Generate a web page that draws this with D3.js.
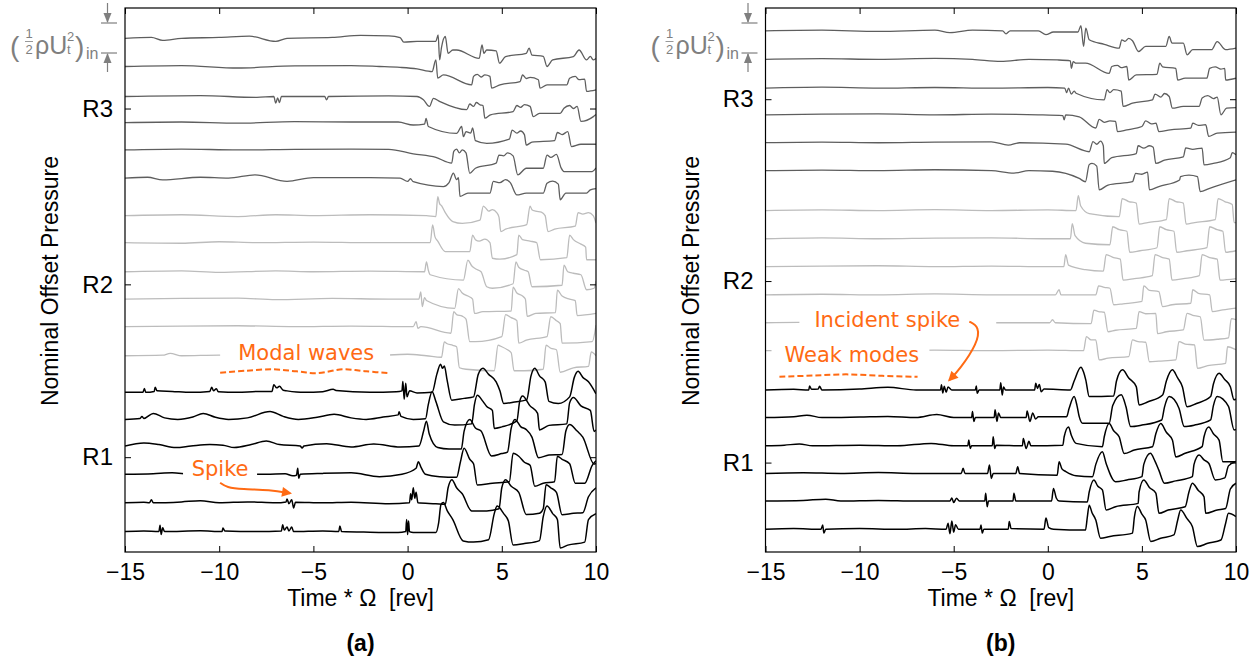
<!DOCTYPE html>
<html>
<head>
<meta charset="utf-8">
<script src="https://cdn.jsdelivr.net/npm/d3@7"></script>
<style>
body { margin: 0; background: #fff; }
svg { display: block; }
text { font-family: "Liberation Sans", Arial, sans-serif; }
</style>
</head>
<body>
<div id="chart"></div>
<script>
// time axis (rev) and row labels
var tDomain = [-15, 10];
var tTicks = [-15, -10, -5, 0, 5, 10];
var rowNames = ["R1", "R2", "R3"];
var yTop = 18.13; // nominal offset pressure, units of (1/2 rho Ut^2)_in

// ---- panel (a) ----
var rowTicksA = [3.16, 8.92, 14.78];
var offsetsA_R3 = [17.12, 16.18, 15.18, 14.31, 13.40, 12.46];
var offsetsA_R2 = [11.21, 10.31, 9.34, 8.43, 7.51, 6.54];
var offsetsA_R1 = [5.32, 4.42, 3.53, 2.59, 1.64, 0.68];

// traces as flat [t, p, t, p, ...] (p relative to the trace offset)
var tracesA_R3 = [
 [-15,0, -13.6,0.03, -13,-0.07, -12,0, -10,0.03, -8.4,0.07, -7,-0.1, -6.4,0, -4,0.03, -2.5,0.1, -1,0.08, -0.4,0.02, -0.2,-0.13, 0.5,-0.1, 1.5,-0.1, 1.62,0.11, 1.7,-0.72, 1.8,-0.3, 2.0,0.06, 2.15,-0.5, 2.4,-0.39, 2.6,-0.39, 3.8,-0.67, 3.95,-0.22, 4.05,-0.5, 4.2,-0.39, 4.7,-0.42, 4.88,-0.83, 5.2,-0.61, 6.3,-0.5, 6.45,-0.33, 6.6,-0.56, 7.2,-0.6, 7.4,-0.94, 7.7,-0.72, 8.8,-0.61, 9.1,-0.39, 9.5,-0.72, 9.7,-0.6, 9.85,-0.72, 10,-0.67],
 [-15,0, -12,0.03, -9,-0.05, -6,0.02, -3,0.03, -1.5,0, -0.4,-0.03, 0.5,-0.08, 1.3,-0.17, 1.5,0.22, 1.6,-0.39, 1.9,-0.28, 3.4,-0.61, 3.5,-0.33, 3.7,-0.26, 3.9,-0.35, 4.1,-0.28, 4.37,-0.33, 4.46,-0.72, 4.9,-0.61, 5.97,-0.5, 6.1,-0.28, 6.3,-0.4, 6.5,-0.36, 6.94,-0.44, 7.03,-0.72, 7.4,-0.61, 8.45,-0.61, 8.6,-0.39, 8.9,-0.33, 9.1,-0.44, 9.4,-0.42, 9.5,-0.83, 10,-0.78],
 [-15,0, -11,0.03, -8,-0.03, -7.1,0, -7.0,-0.22, -6.9,-0.05, -6.8,-0.2, -6.7,0, -4.4,0, -4.3,-0.11, -4.2,0, -1,0.02, 0.5,0, 0.84,-0.11, 1.16,-0.33, 1.37,-0.06, 1.72,-0.17, 3.14,-0.44, 3.3,-0.25, 3.5,-0.33, 3.65,-0.2, 3.85,-0.28, 4.0,-0.3, 4.1,-0.72, 4.4,-0.61, 5.6,-0.5, 5.8,-0.3, 6.0,-0.36, 6.2,-0.27, 6.5,-0.33, 6.67,-0.67, 7.0,-0.56, 8.1,-0.56, 8.3,-0.39, 8.6,-0.3, 8.8,-0.4, 9.0,-0.33, 9.2,-0.83, 9.86,-0.67, 10,-0.6],
 [-15,0, -12,0.02, -9,-0.02, -6,0.03, -3,0.02, -0.5,0.02, 0.3,-0.08, 0.9,-0.05, 0.98,0.14, 1.1,-0.13, 2.6,-0.36, 2.87,-0.13, 2.96,-0.47, 3.1,-0.3, 3.35,-0.35, 3.45,-0.18, 3.6,-0.6, 4.2,-0.69, 5.4,-0.55, 5.55,-0.25, 5.8,-0.35, 6.0,-0.28, 6.2,-0.4, 6.3,-0.75, 6.6,-0.65, 7.8,-0.6, 7.95,-0.33, 8.2,-0.4, 8.5,-0.3, 8.7,-0.8, 9.2,-0.72, 10,-0.72],
 [-15,0, -12,0.03, -9,0, -6,0.02, -3,0.03, -1,0.02, 0.3,-0.13, 1.5,-0.25, 2.34,-0.44, 2.45,-0.05, 2.6,0.03, 2.75,-0.1, 2.9,0.0, 3.1,-0.1, 3.3,-0.78, 3.6,-0.61, 4.7,-0.44, 4.85,-0.17, 5.1,-0.2, 5.3,-0.1, 5.6,-0.2, 5.85,-0.83, 6.3,-0.61, 7.2,-0.61, 7.4,-0.17, 7.6,-0.25, 7.9,-0.15, 8.15,-0.6, 8.3,-0.72, 9.8,-0.72, 10,-0.6],
 [-15,0, -13.8,0.03, -13,-0.06, -11,0.03, -9.5,0.0, -8.1,0.11, -6.4,-0.11, -5,0.02, -2,0.02, -0.4,0, 0.0,-0.11, 0.15,-0.02, 0.3,-0.12, 1.9,-0.28, 2.2,-0.15, 2.43,0.17, 2.6,-0.05, 2.7,0.02, 2.78,-0.61, 3.2,-0.5, 4.37,-0.5, 4.55,-0.11, 4.9,-0.15, 5.2,-0.05, 5.45,-0.15, 5.8,-0.56, 6.3,-0.5, 7.2,-0.5, 7.4,-0.17, 7.7,-0.1, 8.0,-0.2, 8.1,-0.72, 8.4,-0.5, 9.5,-0.5, 9.7,-0.39, 10,-0.35]
];
var tracesA_R2 = [
 [-15,0, -12,0.03, -9,-0.03, -7,0.03, -5,0, -2,0.03, 1.0,0, 1.5,-0.03, 1.6,0.63, 1.7,0.4, 1.8,0.33, 2.0,0.1, 2.4,-0.2, 2.9,-0.26, 3.84,-0.15, 4.02,0.32, 4.15,0.25, 4.3,0.15, 4.5,0.2, 4.73,0.1, 4.85,-0.05, 4.95,-0.53, 5.2,-0.45, 6.32,-0.3, 6.5,0.32, 6.6,0.2, 6.8,0.15, 7.1,0.12, 7.3,0.0, 7.45,-0.53, 7.8,-0.45, 8.9,-0.35, 9.05,0.1, 9.3,0.05, 9.6,0.1, 9.85,0.0, 10,-0.25],
 [-15,0, -12,-0.02, -10,0.03, -8,0, -5,0.02, -2,0.0, 1.2,0.0, 1.33,0.59, 1.45,0.2, 1.6,0.05, 2.0,-0.3, 3.3,-0.3, 3.45,0.25, 3.6,0.1, 3.8,0.05, 4.1,0.12, 4.37,0.0, 4.5,-0.52, 4.9,-0.55, 5.8,-0.4, 5.9,0.25, 6.1,0.1, 6.5,0.05, 6.85,0.0, 7.05,-0.57, 8.45,-0.5, 8.6,0.25, 8.8,0.1, 9.2,-0.05, 9.45,-0.15, 9.5,-0.57, 10,-0.57],
 [-15,0, -12,0.03, -10,-0.02, -7,0.03, -5,0.0, -2,0.02, 0.9,0, 1.0,0.33, 1.1,0.05, 1.2,-0.1, 2.96,-0.28, 3.2,0.39, 3.4,0.2, 3.6,0.1, 3.9,0.0, 4.2,-0.5, 4.5,-0.55, 5.6,-0.4, 5.75,0.33, 5.9,0.15, 6.2,0.05, 6.4,0.0, 6.6,-0.5, 8.2,-0.45, 8.3,0.22, 8.5,0.0, 8.8,-0.05, 9.2,-0.1, 9.5,-0.6, 9.9,-0.55, 10,-0.3],
 [-15,0, -12,0.02, -9,0.03, -7,-0.02, -4,0.02, -1,0.0, 0.6,0.0, 0.7,0.24, 0.78,-0.25, 0.9,0.05, 1.0,-0.05, 2.5,-0.31, 2.7,0.35, 2.9,0.2, 3.2,0.1, 3.45,0.0, 3.55,-0.48, 4.0,-0.42, 5.5,-0.4, 5.6,0.4, 5.8,0.2, 6.1,0.1, 6.25,0.0, 6.35,-0.58, 6.8,-0.48, 7.85,-0.45, 7.95,0.3, 8.2,0.1, 8.6,0.0, 8.9,-0.05, 9.0,-0.55, 10,-0.48],
 [-15,0, -12,0.02, -9,0.03, -6,0, -3,0.02, 0.3,0.0, 0.45,0.17, 0.55,-0.06, 0.7,0.0, 2.3,-0.22, 2.45,0.5, 2.6,0.4, 2.9,0.35, 3.1,0.25, 3.3,-0.5, 3.6,-0.5, 5.0,-0.33, 5.2,0.4, 5.5,0.3, 5.8,0.2, 5.9,-0.55, 6.3,-0.45, 7.4,-0.33, 7.6,0.33, 7.9,0.2, 8.1,0.1, 8.2,-0.55, 9.8,-0.5, 10,0.05],
 [-15,0, -13,0.02, -12.6,0.08, -12,0.0, -10,0.02, -8,0, -5,0.02, -2,0.0, 0,0.05, 1.0,0.0, 1.8,-0.05, 1.95,0.46, 2.1,0.4, 2.4,0.35, 2.6,0.3, 2.75,-0.4, 3.1,-0.45, 4.6,-0.5, 4.8,0.35, 5.0,0.3, 5.3,0.2, 5.5,0.1, 5.65,-0.5, 6.2,-0.5, 7.2,-0.45, 7.35,0.35, 7.6,0.25, 7.9,0.2, 8.1,-0.55, 8.8,-0.4, 9.6,-0.35, 9.75,0.13, 10,0.0]
];
var tracesA_R1 = [
 [-15,0, -14.05,0.0, -13.97,0.13, -13.9,0.0, -13.45,0.03, -13.4,0.17, -13.3,0.05, -12.5,0.03, -11.5,0.0, -10.5,0.03, -10.4,0.17, -10.3,0.05, -10.15,0.12, -10.05,0.02, -9,0.0, -8,0.03, -7.2,0.03, -7.1,0.25, -6.95,0.15, -6.8,0.2, -6.6,0.07, -6.4,0.05, -5.5,0.0, -4.5,0.02, -3.95,0.1, -3.8,0.06, -2,0.0, -0.6,0.02, -0.3,0.05, -0.25,0.36, -0.18,-0.23, -0.1,0.3, -0.03,-0.15, 0.1,0.05, 0.5,-0.02, 1.3,0.0, 1.55,0.6, 1.75,0.94, 1.85,0.8, 1.95,0.88, 2.1,0.4, 2.34,-0.26, 3.0,-0.2, 3.5,-0.15, 3.75,0.6, 4.0,0.8, 4.3,0.6, 4.7,0.35, 4.9,0.05, 5.1,-0.37, 5.6,-0.33, 6.32,-0.25, 6.55,0.55, 6.75,0.8, 7.0,0.55, 7.3,0.35, 7.5,-0.3, 8.0,-0.37, 8.6,-0.15, 8.85,0.5, 9.05,0.7, 9.3,0.5, 9.6,0.35, 10,-0.05],
 [-15,0, -14.2,0.03, -14.1,0.1, -14.0,0.03, -13.5,0.2, -12.9,0.05, -12.2,0.0, -11.4,0.08, -10.85,0.2, -10.2,0.07, -9.5,0.0, -8.5,0.05, -7.3,0.26, -6.6,0.1, -5.8,0.0, -4.8,0.07, -3.9,0.17, -3.0,0.05, -2.2,0.0, -1.3,0.08, -0.5,0.15, -0.45,0.25, -0.35,0.1, 0.3,0.0, 0.95,0.02, 1.1,0.5, 1.3,0.92, 1.5,0.6, 1.9,-0.08, 2.5,-0.19, 3.4,-0.15, 3.55,0.5, 3.7,0.8, 4.0,0.6, 4.2,0.43, 4.5,0.3, 4.6,-0.3, 5.0,-0.25, 5.8,-0.05, 5.95,0.6, 6.1,0.78, 6.5,0.45, 6.9,0.2, 7.0,-0.35, 7.5,-0.2, 8.45,-0.15, 8.6,0.55, 8.8,0.73, 9.2,0.45, 9.7,0.3, 9.9,-0.4, 10,-0.35],
 [-15,0, -14,0.1, -13.2,0.05, -12.3,-0.05, -11.5,0.0, -10.5,0.05, -9.8,0.03, -9.2,-0.05, -8.3,0.05, -7.5,0.17, -6.8,0.05, -5.7,0.0, -5.6,-0.06, -5.5,0.0, -4.3,0.08, -3.0,-0.03, -1.8,0.07, -0.4,-0.03, 0.6,0.0, 0.85,0.5, 1.0,0.83, 1.15,0.4, 1.6,-0.05, 2.2,-0.1, 2.85,-0.1, 3.0,0.5, 3.3,0.89, 3.6,0.6, 3.9,0.5, 4.45,-0.33, 5.0,-0.25, 5.3,-0.2, 5.5,0.6, 5.7,0.89, 6.0,0.65, 6.3,0.55, 6.6,0.3, 6.95,-0.39, 7.5,-0.3, 8.2,-0.28, 8.4,0.5, 8.6,0.72, 9.0,0.5, 9.3,0.3, 9.9,-0.6, 10,-0.58],
 [-15,0, -13.5,0.02, -12.5,0.05, -11.5,0.0, -11,0.02, -7.5,0.0, -6.5,0.02, -6.1,-0.05, -5.9,-0.03, -5.83,0.2, -5.78,-0.13, -5.7,0.0, -4.5,0.03, -3.0,0.05, -1.5,-0.08, -0.3,0.0, 0.45,0.2, 0.57,0.42, 0.7,0.25, 0.95,0.0, 1.7,-0.08, 2.6,-0.1, 2.8,0.4, 3.0,0.87, 3.3,0.5, 3.5,0.35, 3.7,-0.36, 4.5,-0.3, 5.4,-0.25, 5.6,0.7, 5.9,0.6, 6.2,0.4, 6.5,0.3, 6.75,-0.4, 7.2,-0.3, 7.8,-0.25, 7.95,0.6, 8.2,0.5, 8.6,0.35, 8.9,-0.3, 9.4,-0.3, 9.8,0.3, 10,0.45],
 [-15,0, -14,0.02, -13.7,0.0, -13.6,0.1, -13.5,0.0, -12,0.03, -11,0.07, -10,0.0, -8.5,0.03, -7,0.0, -6.45,0.03, -6.4,0.13, -6.3,-0.03, -6.15,0.1, -6.05,-0.17, -5.95,0.02, -4.5,0.0, -3,0.02, -1,-0.03, 0.1,0.0, 0.16,0.3, 0.22,0.1, 0.3,0.5, 0.38,0.15, 0.45,0.35, 0.55,0.0, 1.5,-0.03, 2.0,-0.05, 2.15,0.5, 2.35,0.77, 2.6,0.5, 2.9,0.3, 3.4,-0.27, 4.2,-0.27, 4.85,-0.2, 5.0,0.5, 5.2,0.77, 5.5,0.55, 5.9,0.35, 6.3,-0.39, 7.0,-0.35, 7.2,-0.2, 7.35,0.6, 7.6,0.5, 7.9,0.35, 8.2,-0.4, 8.8,-0.35, 9.3,-0.33, 9.6,0.2, 10,0.5],
 [-15,0, -14,0.02, -13.2,0.0, -13.14,0.21, -13.08,-0.1, -13.0,0.13, -12.9,0.0, -11,0.03, -9.85,0.0, -9.8,0.12, -9.7,0.02, -8,0.0, -6.7,0.02, -6.63,0.23, -6.55,0.05, -6.4,0.15, -6.3,0.02, -6.15,0.15, -6.05,0.0, -4.5,0.02, -3.65,0.0, -3.6,0.19, -3.5,0.0, -2,-0.02, -0.5,-0.03, -0.1,0.0, -0.05,0.4, 0.0,-0.1, 0.05,0.35, 0.1,0.0, 0.3,-0.03, 1.5,-0.03, 1.65,0.3, 1.77,0.9, 1.9,0.97, 2.1,0.7, 2.4,0.4, 2.95,-0.31, 3.5,-0.35, 4.3,-0.27, 4.6,0.6, 4.75,0.85, 5.1,0.6, 5.35,0.35, 5.6,-0.45, 6.2,-0.4, 7.0,-0.3, 7.2,0.5, 7.4,0.85, 7.7,0.6, 7.95,0.4, 8.1,-0.55, 8.5,-0.45, 9.4,-0.35, 9.6,0.4, 10,0.6]
];

// ---- panel (b) ----
var rowTicksB = [2.98, 9.03, 15.09];
var offsetsB_R3 = [17.37, 16.42, 15.46, 14.57, 13.64, 12.71];
var offsetsB_R2 = [11.38, 10.44, 9.51, 8.57, 7.64, 6.71];
var offsetsB_R1 = [5.40, 4.48, 3.54, 2.62, 1.70, 0.76];

var tracesB_R3 = [
 [-15,0, -12,0.02, -9,-0.02, -6,0.02, -5.2,-0.06, -4,0.02, -2.4,0.0, -2.22,-0.1, -2.0,0.0, -0.5,0.0, -0.1,-0.13, 0.3,-0.04, 1.6,-0.04, 1.76,0.17, 1.9,-0.52, 2.02,0.09, 2.2,-0.3, 3.0,-0.45, 3.79,-0.58, 3.93,-0.3, 4.1,-0.35, 4.3,-0.25, 4.5,-0.33, 4.82,-0.69, 5.2,-0.52, 6.27,-0.52, 6.45,-0.19, 6.6,-0.41, 7.2,-0.41, 7.4,-0.8, 7.7,-0.63, 8.7,-0.63, 9.0,-0.36, 9.45,-0.63, 10,-0.58],
 [-15,0, -12,0.02, -9,0.0, -6,0.03, -4,0.0, -2.5,-0.07, -1,0.0, 0.5,-0.02, 1.2,-0.05, 1.25,-0.3, 1.35,-0.08, 1.5,-0.13, 2.0,-0.13, 3.26,-0.47, 3.4,-0.24, 3.7,-0.2, 3.9,-0.28, 4.2,-0.24, 4.3,-0.69, 4.7,-0.52, 5.8,-0.5, 5.95,-0.13, 6.1,-0.25, 6.8,-0.3, 6.9,-0.69, 7.3,-0.63, 8.45,-0.63, 8.6,-0.3, 8.9,-0.25, 9.2,-0.33, 9.4,-0.3, 9.45,-0.69, 10,-0.63],
 [-15,0, -12,0.03, -9,0.0, -6,0.02, -3,0.0, 0,0.02, 0.9,0.0, 1.0,-0.15, 1.1,0.0, 1.25,-0.2, 1.4,-0.1, 1.5,-0.17, 3.0,-0.39, 3.15,-0.05, 3.3,-0.15, 3.5,-0.05, 3.9,-0.1, 4.0,-0.61, 4.5,-0.5, 5.56,-0.39, 5.7,-0.2, 6.0,-0.3, 6.2,-0.18, 6.45,-0.28, 6.62,-0.67, 7.2,-0.61, 8.04,-0.61, 8.2,-0.33, 8.5,-0.25, 8.8,-0.35, 9.0,-0.3, 9.2,-0.89, 9.5,-0.67, 10,-0.65],
 [-15,0, -12,0.02, -9,0.03, -6,0.0, -3,0.02, -0.5,0.0, 0.8,-0.03, 0.87,-0.17, 0.95,0.0, 1.67,-0.07, 2.55,-0.44, 2.73,-0.15, 3.0,-0.25, 3.3,-0.2, 3.6,-0.22, 3.7,-0.56, 4.2,-0.5, 5.0,-0.39, 5.2,-0.2, 5.5,-0.3, 5.75,-0.28, 5.9,-0.56, 6.5,-0.5, 7.6,-0.44, 7.7,-0.28, 8.0,-0.35, 8.39,-0.33, 8.55,-0.72, 9.0,-0.61, 10,-0.58],
 [-15,0, -12,0.02, -9,0.0, -6,0.02, -3,0.03, -2.1,-0.08, -1.5,0.0, 0.96,-0.05, 2.2,-0.3, 2.4,0.04, 2.6,-0.05, 2.8,0.05, 2.95,-0.1, 3.0,-0.69, 3.4,-0.5, 4.7,-0.36, 4.8,-0.1, 5.1,-0.18, 5.4,-0.1, 5.6,-0.15, 5.74,-0.69, 6.2,-0.58, 7.2,-0.47, 7.33,-0.17, 7.7,-0.22, 8.2,-0.18, 8.3,-0.74, 8.8,-0.69, 9.7,-0.5, 9.8,-0.33, 10,-0.4],
 [-15,0, -12,0.02, -9,0.0, -6,0.03, -3,0.0, -1.8,-0.08, -1.0,0.0, 0.25,-0.02, 1.67,-0.26, 2.0,-0.37, 2.2,0.2, 2.35,0.24, 2.6,0.15, 2.73,-0.64, 3.2,-0.48, 4.5,-0.37, 4.67,-0.09, 5.0,-0.12, 5.3,-0.05, 5.4,-0.64, 5.9,-0.53, 7.0,-0.31, 7.05,-0.2, 7.5,-0.15, 7.95,-0.2, 8.1,-0.7, 8.6,-0.59, 10,-0.31]
];
var tracesB_R2 = [
 [-15,0, -12,0.02, -9,0.0, -6,0.03, -3,0.0, 0,0.02, 1.5,0.0, 1.62,0.5, 1.75,0.15, 2.2,-0.1, 3.8,-0.2, 3.95,0.4, 4.3,0.3, 4.7,0.25, 4.85,-0.45, 5.3,-0.4, 6.3,-0.3, 6.45,0.4, 6.8,0.3, 7.2,0.25, 7.35,-0.45, 7.8,-0.4, 8.9,-0.3, 9.05,0.4, 9.4,0.3, 9.8,0.2, 9.9,-0.4, 10,-0.4],
 [-15,0, -12,0.03, -9,0.0, -6,0.02, -3,0.03, 0,0.0, 1.2,0.0, 1.3,0.5, 1.45,0.1, 2.0,-0.15, 3.3,-0.2, 3.45,0.4, 3.8,0.3, 4.2,0.25, 4.35,-0.45, 4.9,-0.4, 5.8,-0.3, 5.95,0.4, 6.3,0.3, 6.7,0.25, 6.85,-0.45, 7.4,-0.4, 8.45,-0.3, 8.6,0.4, 9.0,0.3, 9.3,0.25, 9.45,-0.45, 10,-0.4],
 [-15,0, -12,0.02, -9,0.03, -6,0.0, -3,0.02, 0,0.0, 0.85,0.0, 0.95,0.4, 1.1,0.05, 2.0,-0.1, 2.95,-0.15, 3.1,0.4, 3.5,0.3, 3.85,0.25, 4.0,-0.45, 4.6,-0.4, 5.55,-0.3, 5.7,0.4, 6.1,0.3, 6.45,0.25, 6.6,-0.45, 7.2,-0.4, 8.05,-0.3, 8.2,0.4, 8.6,0.3, 9.0,0.25, 9.15,-0.45, 10,-0.4],
 [-15,0, -12,0.02, -9,0.0, -6,0.03, -3,0.0, 0.4,0.0, 0.6,0.17, 0.7,0.0, 2.55,0.0, 2.7,0.3, 3.0,0.25, 3.3,0.22, 3.5,-0.33, 4.0,-0.3, 5.0,-0.22, 5.1,0.3, 5.4,0.15, 5.9,0.11, 6.1,-0.39, 6.6,-0.33, 7.6,-0.28, 7.7,0.17, 8.0,0.05, 8.6,0.0, 8.74,-0.56, 9.3,-0.5, 10,-0.44],
 [-15,0, -12,0.02, -9,0.0, -6,0.02, -3,0.0, 0.1,0.0, 0.25,0.1, 0.4,0.0, 2.3,-0.03, 2.45,0.42, 2.7,0.37, 3.0,0.35, 3.2,-0.3, 3.6,-0.25, 4.7,-0.19, 4.85,0.37, 5.2,0.3, 5.74,0.31, 5.83,-0.36, 6.3,-0.3, 7.2,-0.24, 7.4,0.31, 7.7,0.25, 8.1,0.2, 8.3,-0.58, 9.0,-0.55, 9.6,-0.5, 9.75,0.14, 10,0.1],
 [-15,0, -12,0.02, -9,0.0, -6,0.02, -3,0.0, 0,0.02, 1.9,0.0, 2.05,0.47, 2.3,0.36, 2.55,0.36, 2.73,-0.31, 3.2,-0.25, 4.3,-0.2, 4.5,0.36, 4.8,0.3, 5.2,0.28, 5.4,-0.37, 5.9,-0.35, 6.8,-0.31, 6.97,0.3, 7.3,0.22, 7.8,0.19, 7.95,-0.59, 8.5,-0.5, 9.45,-0.42, 9.55,0.13, 10,0.03]
];
var tracesB_R1 = [
 [-15,0, -13.5,0.02, -12.7,0.0, -12.66,0.13, -12.55,0.02, -12.2,0.03, -12.13,0.12, -12.0,0.0, -10,0.03, -8.5,0.09, -7,0.0, -5.7,0.0, -5.65,0.17, -5.58,-0.1, -5.5,0.12, -5.4,-0.08, -5.3,0.1, -5.1,0.0, -3.85,0.0, -3.8,0.13, -3.75,-0.11, -3.65,0.0, -2.55,0.0, -2.5,0.24, -2.42,-0.17, -2.35,0.1, -2.25,0.0, -0.7,0.0, -0.64,0.22, -0.55,0.05, -0.45,0.18, -0.35,-0.06, -0.2,0.03, 1.2,0.0, 1.4,0.3, 1.76,0.76, 1.9,0.6, 2.02,0.33, 2.2,-0.22, 3.5,-0.2, 3.65,0.3, 3.97,0.67, 4.3,0.4, 4.7,0.11, 4.85,-0.5, 5.3,-0.4, 6.1,-0.17, 6.3,0.3, 6.62,0.67, 6.9,0.4, 7.15,0.11, 7.4,-0.56, 7.9,-0.45, 8.65,-0.22, 8.8,0.2, 9.1,0.56, 9.4,0.35, 9.7,0.11, 9.9,-0.33, 10,-0.3],
 [-15,0, -13.5,0.03, -12.8,0.08, -12,0.0, -10,0.02, -8.5,0.04, -7,0.0, -5.9,0.1, -5,0.0, -4.05,0.0, -4.0,0.2, -3.93,-0.13, -3.85,0.0, -2.85,0.0, -2.8,0.26, -2.7,-0.13, -2.62,0.15, -2.5,0.0, -1.15,0.0, -1.1,0.22, -0.95,-0.13, -0.8,0.15, -0.65,-0.05, -0.5,0.03, 1.0,0.03, 1.13,0.3, 1.4,0.7, 1.55,0.4, 1.67,0.03, 1.85,-0.19, 3.26,-0.19, 3.45,0.4, 3.9,0.76, 4.15,0.37, 4.4,-0.3, 5.0,-0.25, 6.05,-0.08, 6.2,0.35, 6.45,0.7, 6.97,0.31, 7.25,-0.3, 7.8,-0.25, 8.65,-0.08, 8.8,0.4, 9.0,0.7, 9.6,0.37, 9.9,-0.41, 10,-0.4],
 [-15,0, -14,0.02, -13.2,0.06, -12.5,0.0, -10,0.02, -8,0.0, -6.2,0.08, -5,0.0, -4.25,0.0, -4.2,0.19, -4.12,-0.09, -4.05,0.0, -2.95,0.0, -2.9,0.3, -2.82,-0.09, -2.75,0.02, -1.35,0.0, -1.3,0.24, -1.15,-0.09, -1.0,0.15, -0.9,0.0, 0.8,0.02, 0.87,0.3, 1.1,0.63, 1.25,0.35, 1.5,0.08, 2.9,-0.03, 3.0,0.3, 3.26,0.74, 3.5,0.5, 3.79,0.3, 4.06,-0.26, 4.6,-0.14, 5.56,-0.03, 5.74,0.4, 6.0,0.74, 6.3,0.45, 6.62,0.19, 6.8,-0.37, 7.3,-0.25, 8.2,-0.03, 8.3,0.3, 8.55,0.63, 8.8,0.4, 9.1,0.19, 9.3,-0.53, 10,-0.53],
 [-15,0, -13,0.02, -11,0.0, -9,0.03, -7,0.0, -4.6,0.0, -4.5,0.17, -4.4,0.0, -3.2,0.0, -3.1,0.28, -3.0,-0.17, -2.9,0.0, -1.7,0.0, -1.6,0.22, -1.5,0.0, 0.5,-0.06, 0.6,0.39, 0.75,0.15, 0.96,0.06, 1.5,-0.08, 2.37,-0.11, 2.55,0.3, 2.9,0.72, 3.1,0.33, 3.6,-0.28, 4.2,-0.22, 5.0,-0.11, 5.1,0.3, 5.45,0.67, 5.7,0.4, 5.9,0.11, 6.2,-0.33, 6.8,-0.25, 7.68,-0.11, 7.77,0.3, 8.04,0.61, 8.3,0.45, 8.56,0.33, 8.9,-0.22, 9.4,-0.15, 9.6,0.25, 10,0.4],
 [-15,0, -13,0.02, -11.8,0.06, -11,0.0, -9,0.02, -7,0.0, -5.2,0.0, -5.1,0.1, -5.0,-0.05, -4.85,0.09, -4.7,0.0, -3.35,0.0, -3.3,0.26, -3.22,-0.19, -3.15,0.0, -1.85,0.0, -1.8,0.26, -1.7,0.0, 0.2,0.0, 0.3,0.42, 0.45,0.1, 0.6,0.0, 2.1,-0.03, 2.2,0.3, 2.45,0.7, 2.65,0.5, 2.9,0.37, 3.1,-0.3, 3.6,-0.19, 4.8,-0.08, 4.85,0.3, 5.1,0.7, 5.4,0.45, 5.74,0.26, 5.91,-0.41, 6.4,-0.3, 7.3,-0.19, 7.5,0.3, 7.68,0.59, 8.0,0.35, 8.3,0.14, 8.39,-0.41, 9.0,-0.3, 9.45,-0.25, 9.7,0.4, 10,0.59],
 [-15,0, -13.5,0.02, -12.05,0.0, -11.96,0.14, -11.9,-0.13, -11.8,0.0, -10,0.02, -8,0.0, -6.5,0.02, -5.4,0.0, -5.3,0.2, -5.2,-0.15, -5.1,0.27, -5.0,-0.1, -4.9,0.15, -4.75,0.0, -3.6,0.0, -3.55,0.14, -3.48,-0.13, -3.4,0.0, -2.1,0.0, -2.05,0.26, -1.95,0.02, -0.2,0.0, -0.1,0.37, 0.05,0.05, 0.3,0.0, 2.0,-0.03, 2.1,0.4, 2.2,0.8, 2.35,0.55, 2.55,0.31, 2.8,-0.3, 3.3,-0.24, 4.5,-0.13, 4.6,0.4, 4.76,0.76, 5.0,0.5, 5.2,0.31, 5.47,-0.41, 6.0,-0.3, 6.7,-0.19, 6.9,0.3, 7.06,0.64, 7.4,0.35, 7.68,0.09, 7.95,-0.58, 8.5,-0.47, 9.2,-0.36, 9.45,0.2, 9.6,0.53, 10,0.42]
];

// annotation paths, [t, pressure]
var modalWaveA = [[-9.95,5.97],[-8.6,6.04],[-7.14,6.09],[-5.9,6.02],[-4.8,5.96],[-3.43,6.09],[-2.2,6.02],[-0.93,5.96]];
var spikeArrowA = [[-9.95,2.31],[-9.6,2.15],[-8.8,2.09],[-7.3,2.07],[-6.24,1.96]];
var weakWaveB = [[-14.26,5.84],[-12.5,5.88],[-10.72,5.92],[-8.8,5.87],[-6.92,5.84]];
var incidentArrowB = [[-4.17,7.68],[-3.64,7.51],[-3.73,6.96],[-4.7,6.07],[-5.23,5.73]];

var orange = "#ff6a13";
var styleR = {
  R3: {color: "#5e5e5e", width: 1.3},
  R2: {color: "#bcbcbc", width: 1.3},
  R1: {color: "#000000", width: 1.5}
};

var panels = [
  {left: 125, right: 596, name: "(a)", ticks: rowTicksA,
   groups: [["R2", tracesA_R2, offsetsA_R2], ["R3", tracesA_R3, offsetsA_R3], ["R1", tracesA_R1, offsetsA_R1]],
   labels: [
     {text: "Modal waves", t: -8.99, p: 6.4, box: [-9.95, -0.93, 6.23, 7.07], wave: modalWaveA},
     {text: "Spike", t: -11.46, p: 2.53, box: [-11.92, -7.99, 2.37, 3.13], arrow: spikeArrowA}
   ]},
  {left: 765.5, right: 1236, name: "(b)", ticks: rowTicksB,
   groups: [["R2", tracesB_R2, offsetsB_R2], ["R3", tracesB_R3, offsetsB_R3], ["R1", tracesB_R1, offsetsB_R1]],
   labels: [
     {text: "Incident spike", t: -12.4, p: 7.5, box: [-13.2, -2.74, 7.27, 8.17], arrow: incidentArrowB},
     {text: "Weak modes", t: -13.99, p: 6.33, box: [-14.68, -6.29, 6.17, 7.03], wave: weakWaveB}
   ]}
];

var plotTop = 8, plotBottom = 552;

function pairs(a, off) {
  var out = [];
  for (var i = 0; i < a.length; i += 2) out.push([a[i], a[i + 1] + off]);
  return out;
}

var svg = d3.select("#chart").append("svg")
    .attr("width", 1257)
    .attr("height", 661);

var defs = svg.append("defs");
defs.append("marker")
    .attr("id", "head")
    .attr("viewBox", "0 0 10 10")
    .attr("refX", 8).attr("refY", 5)
    .attr("markerWidth", 12).attr("markerHeight", 10)
    .attr("markerUnits", "userSpaceOnUse")
    .attr("orient", "auto")
  .append("path")
    .attr("d", "M0,0 L10,5 L0,10 z")
    .attr("fill", orange);

panels.forEach(function(p, pi) {
  var x = d3.scaleLinear().domain(tDomain).range([p.left, p.right]);
  var y = d3.scaleLinear().domain([0, yTop]).range([plotBottom, plotTop]);
  var g = svg.append("g");

  defs.append("clipPath").attr("id", "clip" + pi)
    .append("rect")
    .attr("x", p.left).attr("y", plotTop)
    .attr("width", p.right - p.left).attr("height", plotBottom - plotTop);

  var line = d3.line()
      .x(function(d) { return x(d[0]); })
      .y(function(d) { return y(d[1]); });
  var traceLine = d3.line()
      .x(function(d) { return x(d[0]); })
      .y(function(d) { return y(d[1]); })
      .curve(d3.curveMonotoneX);

  var traces = g.append("g").attr("clip-path", "url(#clip" + pi + ")");
  p.groups.forEach(function(gr) {
    var st = styleR[gr[0]];
    gr[1].forEach(function(arr, i) {
      traces.append("path")
        .attr("d", traceLine(pairs(arr, gr[2][i])))
        .attr("fill", "none")
        .attr("stroke", st.color)
        .attr("stroke-width", st.width)
        .attr("stroke-linejoin", "round");
    });
  });

  // labels with white background that hides the trace beneath
  p.labels.forEach(function(lb) {
    g.append("rect")
      .attr("x", x(lb.box[0])).attr("width", x(lb.box[1]) - x(lb.box[0]))
      .attr("y", y(lb.box[3])).attr("height", y(lb.box[2]) - y(lb.box[3]))
      .attr("fill", "#fff");
    g.append("text")
      .attr("x", x(lb.t)).attr("y", y(lb.p))
      .style("font-family", "'DejaVu Sans', Verdana, sans-serif")
      .style("font-size", "21px")
      .attr("fill", orange)
      .text(lb.text);
    if (lb.wave) {
      g.append("path")
        .attr("d", line.curve(d3.curveCatmullRom)(lb.wave))
        .attr("fill", "none")
        .attr("stroke", orange)
        .attr("stroke-width", 2)
        .attr("stroke-dasharray", "6,3");
    }
    if (lb.arrow) {
      g.append("path")
        .attr("d", line.curve(d3.curveBasis)(lb.arrow))
        .attr("fill", "none")
        .attr("stroke", orange)
        .attr("stroke-width", 2)
        .attr("marker-end", "url(#head)");
    }
  });

  // box and ticks
  g.append("rect")
    .attr("x", p.left).attr("y", plotTop)
    .attr("width", p.right - p.left).attr("height", plotBottom - plotTop)
    .attr("fill", "none").attr("stroke", "#000").attr("stroke-width", 1.2);

  var xb = g.append("g").attr("transform", "translate(0," + plotBottom + ")")
    .call(d3.axisBottom(x).tickValues(tTicks).tickSizeInner(-6).tickSizeOuter(0).tickPadding(12));
  var xt = g.append("g").attr("transform", "translate(0," + plotTop + ")")
    .call(d3.axisTop(x).tickValues(tTicks).tickSizeInner(-6).tickSizeOuter(0).tickFormat(""));
  var yl = g.append("g").attr("transform", "translate(" + p.left + ",0)")
    .call(d3.axisLeft(y).tickValues(p.ticks).tickSizeInner(-6).tickSizeOuter(0).tickPadding(12)
      .tickFormat(function(d, i) { return rowNames[i]; }));
  var yr = g.append("g").attr("transform", "translate(" + p.right + ",0)")
    .call(d3.axisRight(y).tickValues(p.ticks).tickSizeInner(-6).tickSizeOuter(0).tickFormat(""));
  [xb, xt, yl, yr].forEach(function(a) {
    a.select(".domain").remove();
    a.selectAll("line").attr("stroke", "#000");
    a.selectAll("text").attr("fill", "#000")
      .style("font-family", "'Liberation Sans', Arial, sans-serif");
  });
  xb.selectAll("text").style("font-size", "23px");
  yl.selectAll("text").style("font-size", "24px");

  var cx = (p.left + p.right) / 2;
  g.append("text")
    .attr("x", cx).attr("y", 606)
    .attr("text-anchor", "middle")
    .style("font-size", "23px")
    .style("white-space", "pre")
    .text("Time * \u03A9  [rev]");
  g.append("text")
    .attr("x", cx).attr("y", 651)
    .attr("text-anchor", "middle")
    .style("font-size", "23px")
    .style("font-weight", "bold")
    .text(p.name);
  g.append("text")
    .attr("transform", "translate(" + (p.left - 75) + ",281) rotate(-90)")
    .attr("text-anchor", "middle")
    .attr("dy", "0.35em")
    .style("font-size", "23px")
    .text("Nominal Offset Pressure");

  // (1/2 rho Ut^2)_in scale bar
  var gray = "#7f7f7f", L = p.left;
  var f = g.append("g").attr("fill", gray)
      .style("font-family", "'DejaVu Sans', Verdana, sans-serif");
  f.append("text").attr("x", L - 115).attr("y", 56).style("font-size", "28px").text("(");
  f.append("text").attr("x", L - 96).attr("y", 38).attr("text-anchor", "middle").style("font-size", "13px").text("1");
  f.append("text").attr("x", L - 96).attr("y", 54).attr("text-anchor", "middle").style("font-size", "13px").text("2");
  f.append("line").attr("x1", L - 100).attr("x2", L - 92).attr("y1", 41.5).attr("y2", 41.5)
    .attr("stroke", gray).attr("stroke-width", 0.8);
  f.append("text").attr("x", L - 90).attr("y", 54).style("font-family", "'Liberation Sans', Arial, sans-serif")
    .style("font-size", "25px").text("\u03C1U");
  f.append("text").attr("x", L - 58).attr("y", 41).style("font-size", "13px").text("2");
  f.append("text").attr("x", L - 58).attr("y", 54).style("font-size", "13px").text("t");
  f.append("text").attr("x", L - 50).attr("y", 56).style("font-size", "28px").text(")");
  f.append("text").attr("x", L - 39).attr("y", 59).style("font-size", "16px").text("in");

  var ya = y(17.63), yb = y(16.63), ax = L - 17.5;
  [ya, yb].forEach(function(yy) {
    g.append("line").attr("x1", L - 24).attr("x2", L - 8).attr("y1", yy).attr("y2", yy)
      .attr("stroke", gray).attr("stroke-width", 1.2);
  });
  g.append("line").attr("x1", ax).attr("x2", ax).attr("y1", ya - 20).attr("y2", ya - 1)
    .attr("stroke", gray).attr("stroke-width", 1.2);
  g.append("line").attr("x1", ax).attr("x2", ax).attr("y1", yb + 1).attr("y2", yb + 19)
    .attr("stroke", gray).attr("stroke-width", 1.2);
  g.append("path").attr("d", "M" + (ax - 4) + "," + (ya - 10) + "L" + ax + "," + ya + "L" + (ax + 4) + "," + (ya - 10) + "Z")
    .attr("fill", gray);
  g.append("path").attr("d", "M" + (ax - 4) + "," + (yb + 10) + "L" + ax + "," + yb + "L" + (ax + 4) + "," + (yb + 10) + "Z")
    .attr("fill", gray);
});
</script>
</body>
</html>
